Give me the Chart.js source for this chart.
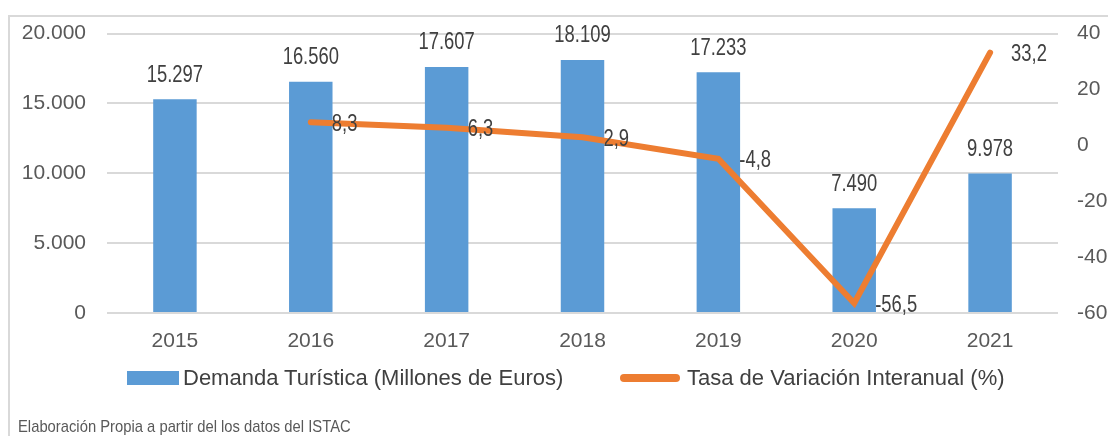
<!DOCTYPE html>
<html>
<head>
<meta charset="utf-8">
<script src="https://cdn.jsdelivr.net/npm/chart.js@4/dist/chart.umd.min.js"></script>
<style>
  html, body { margin: 0; padding: 0; background: #fff; }
  #wrap { position: relative; width: 1108px; height: 436px; overflow: hidden;
          font-family: 'Liberation Sans', Arial, sans-serif; }
  #frame { position: absolute; left: 8px; top: 15px; width: 1200px; height: 500px;
           border-left: 2px solid #d9d9d9; border-top: 2px solid #d9d9d9; }
  #fuente { position: absolute; left: 18px; top: 417px; font-size: 17px; white-space: nowrap;
            color: #595959; transform: scaleX(0.87); transform-origin: left top; }
  canvas { position: absolute; left: 0; top: 0; }
  .ley { position: absolute; top: 366px; font-size: 22px; color: #404040; white-space: nowrap; line-height: 24px; }
  .caja { position: absolute; }
</style>
</head>
<body>
<div id="wrap">
  <div id="frame"></div>
  <canvas id="myChart" width="1108" height="436"></canvas>
  <div class="caja" style="left:127px; top:371px; width:52px; height:14px; background:#5b9bd5"></div>
  <div class="ley" id="ley0" style="left:183px"></div>
  <div class="caja" style="left:620px; top:374px; width:60px; height:8px; border-radius:4px; background:#ed7d31"></div>
  <div class="ley" id="ley1" style="left:687px"></div>
  <div id="fuente">Elaboración Propia a partir del los datos del ISTAC</div>
</div>
<script>
var years = ["2015", "2016", "2017", "2018", "2019", "2020", "2021"];
var demanda = [15297, 16560, 17607, 18109, 17233, 7490, 9978];
var tasa = [null, 8.3, 6.3, 2.9, -4.8, -56.5, 33.2];
var leftTicks = [0, 5000, 10000, 15000, 20000];
var rightTicks = [-60, -40, -20, 0, 20, 40];
var seriesNames = ["Demanda Turística (Millones de Euros)", "Tasa de Variación Interanual (%)"];

var FONT = "'Liberation Sans', Arial, sans-serif";

// numeros en formato espanol: 15.297 y 8,3
function miles(v){
    var s = String(Math.round(Math.abs(v)));
    s = s.replace(/\B(?=(\d{3})+(?!\d))/g, ".");
    return (v < 0 ? "-" : "") + s;
}
function decimal(v){
    return v.toFixed(1).replace(".", ",");
}

// texto estrecho (no hay Arial Narrow): se comprime en horizontal
function textoEstrecho(ctx, txt, x, y, align){
    var k = 0.8;
    var w = ctx.measureText(txt).width * k;
    var x0 = align === "center" ? x - w / 2 : x;
    ctx.save();
    ctx.translate(x0, y);
    ctx.scale(k, 1);
    ctx.textAlign = "left";
    ctx.fillText(txt, 0, 0);
    ctx.restore();
}

// etiquetas de datos (no hay plugin datalabels sin red)
var etiquetas = {
    id: "etiquetas",
    afterDatasetsDraw: function(chart){
        var ctx = chart.ctx;
        ctx.save();
        ctx.font = "23px " + FONT;
        ctx.fillStyle = "#404040";
        ctx.textBaseline = "middle";
        var barras = chart.getDatasetMeta(0);
        barras.data.forEach(function(bar, i){
            textoEstrecho(ctx, miles(demanda[i]), bar.x, bar.y - 24, "center");
        });
        var linea = chart.getDatasetMeta(1);
        linea.data.forEach(function(pt, i){
            if (tasa[i] === null) return;
            textoEstrecho(ctx, decimal(tasa[i]), pt.x + 21, pt.y + 2, "left");
        });
        ctx.restore();
    }
};

document.getElementById("ley0").textContent = seriesNames[0];
document.getElementById("ley1").textContent = seriesNames[1];

var ctx = document.getElementById("myChart");
var myChart = new Chart(ctx, {
    type: "bar",
    data: {
        labels: years,
        datasets: [{
            type: "bar",
            label: seriesNames[0],
            data: demanda,
            backgroundColor: "#5b9bd5",
            borderWidth: 0,
            categoryPercentage: 1,
            barPercentage: 0.32,
            yAxisID: "y",
            order: 1
        }, {
            type: "line",
            label: seriesNames[1],
            data: tasa,
            borderColor: "#ed7d31",
            backgroundColor: "#ed7d31",
            borderWidth: 6,
            borderCapStyle: "round",
            borderJoinStyle: "miter",
            pointRadius: 0,
            tension: 0,
            yAxisID: "y1",
            order: 0
        }]
    },
    options: {
        responsive: false,
        animation: false,
        layout: { padding: { top: 30, bottom: 80, left: 0, right: 0 } },
        plugins: {
            tooltip: { enabled: false },
            legend: { display: false }
        },
        scales: {
            x: {
                grid: { display: false },
                border: { display: false },
                ticks: { color: "#595959", font: { family: FONT, size: 21 }, padding: 8 },
                afterFit: function(scale){ scale.height = 43; }
            },
            y: {
                position: "left",
                min: 0, max: 20000,
                afterBuildTicks: function(scale){
                    scale.ticks = leftTicks.map(function(v){ return { value: v }; });
                },
                grid: { color: "#d9d9d9", lineWidth: 2, drawTicks: false },
                border: { display: false },
                ticks: {
                    color: "#595959", font: { family: FONT, size: 21 }, padding: 21,
                    callback: function(v){ return miles(v); }
                },
                afterFit: function(scale){ scale.width = 107; }
            },
            y1: {
                position: "right",
                min: -60, max: 40,
                afterBuildTicks: function(scale){
                    scale.ticks = rightTicks.map(function(v){ return { value: v }; });
                },
                grid: { display: false, drawTicks: false },
                border: { display: false },
                ticks: {
                    color: "#595959", font: { family: FONT, size: 21 }, padding: 19,
                    callback: function(v){ return String(v); }
                },
                afterFit: function(scale){ scale.width = 50; }
            }
        }
    },
    plugins: [etiquetas]
});
</script>
</body>
</html>
